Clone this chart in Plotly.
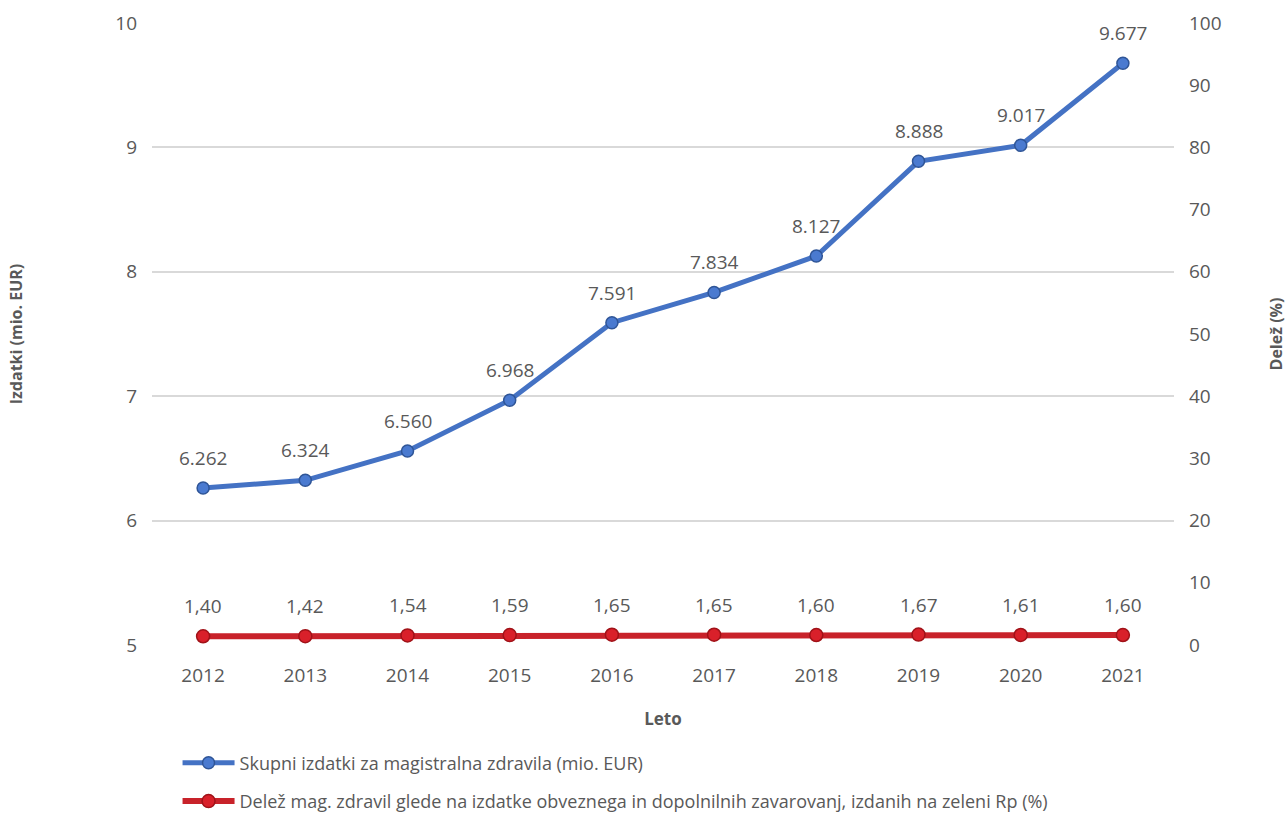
import plotly.graph_objects as go

years = ["2012", "2013", "2014", "2015", "2016", "2017", "2018", "2019", "2020", "2021"]
izdatki = [6.262, 6.324, 6.560, 6.968, 7.591, 7.834, 8.127, 8.888, 9.017, 9.677]
delez = [1.40, 1.42, 1.54, 1.59, 1.65, 1.65, 1.60, 1.67, 1.61, 1.60]

name_izdatki = "Skupni izdatki za magistralna zdravila (mio. EUR)"
name_delez = "Delež mag. zdravil glede na izdatke obveznega in dopolnilnih zavarovanj, izdanih na zeleni Rp (%)"

FONT = "Open Sans, Lato, sans-serif"
GREY = "#595959"

fig = go.Figure()

fig.add_trace(go.Scatter(
    x=years, y=izdatki, name=name_izdatki, legendgroup="izdatki",
    mode="lines+markers",
    line=dict(color="#4472C4", width=5),
    marker=dict(size=12, color="#4A7AD0", line=dict(color="#2F5597", width=1.5)),
    yaxis="y",
))

fig.add_trace(go.Scatter(
    x=years, y=delez, name=name_delez, legendgroup="delez",
    mode="lines+markers",
    line=dict(color="#C8222A", width=6),
    marker=dict(size=13, color="#D9202A", line=dict(color="#A01218", width=1.5)),
    yaxis="y2",
))

# value labels above each point (category axis -> position by index)
labels = []
for i, v in enumerate(izdatki):
    labels.append(dict(x=i, y=v, xref="x", yref="y", text=f"{v:.3f}",
                       showarrow=False, yshift=30,
                       font=dict(family=FONT, size=19, color=GREY)))
for i, v in enumerate(delez):
    labels.append(dict(x=i, y=v, xref="x", yref="y2", text=f"{v:.2f}".replace(".", ","),
                       showarrow=False, yshift=30,
                       font=dict(family=FONT, size=19, color=GREY)))

fig.update_layout(
    width=1287, height=813,
    margin=dict(l=152, r=113, t=23, b=168, autoexpand=False),
    paper_bgcolor="white", plot_bgcolor="white",
    font=dict(family=FONT, color=GREY, size=17),
    annotations=labels,
    showlegend=True,
    legend=dict(
        x=0.025, y=-0.16, xanchor="left", yanchor="top",
        font=dict(family=FONT, size=18, color=GREY),
        tracegroupgap=12, itemwidth=52,
        bgcolor="rgba(0,0,0,0)",
    ),
    hovermode=False,
    xaxis=dict(
        type="category", range=[-0.5, 9.5], automargin=False,
        showgrid=False, showline=False, ticks="", zeroline=False,
        tickfont=dict(size=19, color=GREY), ticklabelstandoff=17,
        title=dict(text="<b>Leto</b>", font=dict(size=17, color=GREY), standoff=26),
    ),
    yaxis=dict(
        range=[5, 10], dtick=1, tick0=5, automargin=False,
        showgrid=True, gridcolor="#D9D9D9", gridwidth=1.5,
        zeroline=False, showline=False, ticks="",
        tickfont=dict(size=19, color=GREY), ticklabelstandoff=14,
        title=dict(text="<b>Izdatki (mio. EUR)</b>", font=dict(size=16, color=GREY), standoff=88),
    ),
    yaxis2=dict(
        overlaying="y", side="right", automargin=False,
        range=[0, 100], dtick=10,
        showgrid=False, zeroline=False, showline=False, ticks="",
        tickfont=dict(size=19, color=GREY), ticklabelstandoff=14,
        title=dict(text="<b>Delež (%)</b>", font=dict(size=16, color=GREY), standoff=50),
    ),
)

fig.write_html("out.html")
